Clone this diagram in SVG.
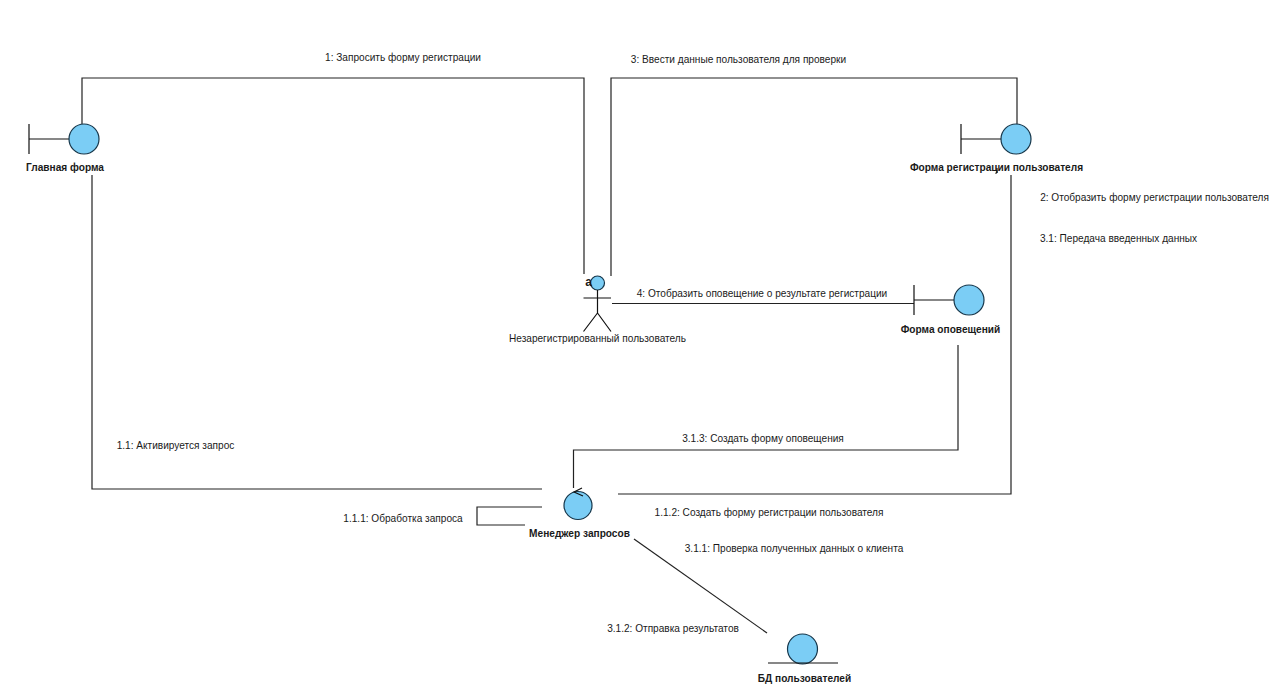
<svg xmlns="http://www.w3.org/2000/svg" width="1280" height="695" viewBox="0 0 1280 695">
<style>
text{font-family:"Liberation Sans",Arial,sans-serif;font-size:10.1px;fill:#1a1a1a}
.b{font-weight:bold;font-size:10.15px}
.m{text-anchor:middle}
.a{font-size:12px;font-weight:bold}
.c{fill:none;stroke:#222;stroke-width:1.2}
.o{fill:#7bcdf5;stroke:#16364a;stroke-width:1.2}
.s{fill:none;stroke:#111;stroke-width:1.2}
</style>
<rect width="1280" height="695" fill="#fff"/>
<g id="connectors">
<path class="c" d="M82 124V78H584V274"/>
<path class="c" d="M611 276V78H1017V124"/>
<path class="c" d="M92 175V489H542"/>
<path class="c" d="M1011 175V494H618"/>
<path class="c" d="M958 345V450H573.500V488"/>
<path class="c" d="M612 303.500H914"/>
<path class="c" d="M542 507H477V525H525"/>
<path class="c" d="M634 539L767 633"/>
</g>
<g id="labels">
<text x="403" y="61" class="m">1: Запросить форму регистрации</text>
<text x="738.500" y="63" class="m">3: Ввести данные пользователя для проверки</text>
<text x="1154.500" y="201" class="m">2: Отобразить форму регистрации пользователя</text>
<text x="1118.500" y="242" class="m">3.1: Передача введенных данных</text>
<text x="762" y="297" class="m">4: Отобразить оповещение о результате регистрации</text>
<text x="175.500" y="449" class="m">1.1: Активируется запрос</text>
<text x="763" y="442" class="m">3.1.3: Создать форму оповещения</text>
<text x="403" y="522" class="m">1.1.1: Обработка запроса</text>
<text x="769" y="516" class="m">1.1.2: Создать форму регистрации пользователя</text>
<text x="794" y="552" class="m">3.1.1: Проверка полученных данных о клиента</text>
<text x="673" y="632" class="m">3.1.2: Отправка результатов</text>
</g>
<g id="main-form">
<path class="s" d="M29 124V154M29 139H69"/>
<circle class="o" cx="84" cy="139" r="15"/>
<text x="65" y="171" class="b m">Главная форма</text>
</g>
<g id="registration-form">
<path class="s" d="M961 124V154M961 139H1001"/>
<circle class="o" cx="1016" cy="139" r="15"/>
<text x="996.500" y="171" class="b m">Форма регистрации пользователя</text>
<path class="s" d="M997 168V172.500L995.500 173.500"/>
</g>
<g id="notification-form">
<path class="s" d="M914 285V315M914 300H954"/>
<circle class="o" cx="969" cy="300" r="15"/>
<text x="950.500" y="333" class="b m">Форма оповещений</text>
</g>
<g id="actor">
<circle class="o" cx="597.500" cy="283" r="7"/>
<path class="s" d="M597.500 290V313M583.500 298H611M597.500 313L583.500 331.500M597.500 313L611 331.500"/>
<text x="588.500" y="286" class="m a">a</text>
<text x="597.500" y="342" class="m">Незарегистрированный пользователь</text>
</g>
<g id="request-manager">
<circle class="o" cx="578" cy="505.500" r="14"/>
<path class="s" d="M582 488L574 492L583 496"/>
<text x="579.500" y="537" class="b m">Менеджер запросов</text>
</g>
<g id="user-db">
<circle class="o" cx="802.500" cy="649" r="15"/>
<path class="s" d="M768 663H838"/>
<text x="804.500" y="682" class="b m">БД пользователей</text>
</g>
</svg>
